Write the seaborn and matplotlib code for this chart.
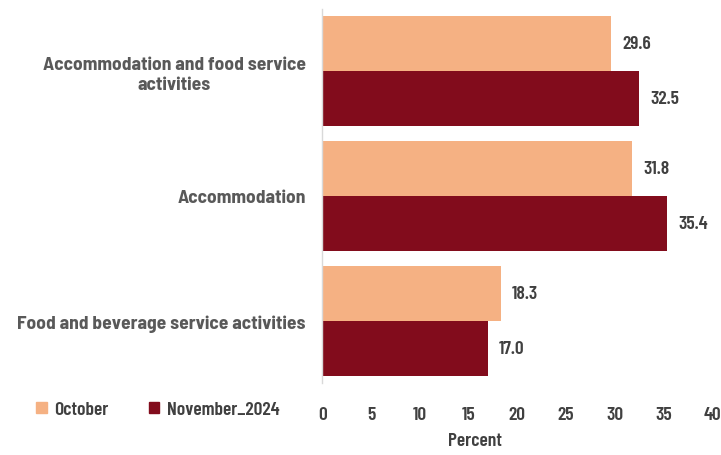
import matplotlib
matplotlib.use("Agg")
import matplotlib.pyplot as plt
import pandas as pd
import seaborn as sns
from matplotlib.patches import Patch

categories = [
    "Accommodation and food service\nactivities",
    "Accommodation",
    "Food and beverage service activities",
]
series = ["October", "November_2024"]
october = [29.6, 31.8, 18.3]
november = [32.5, 35.4, 17.0]
colors = ["#F5B183", "#820C1C"]
dark_text = "#404040"
cat_text = "#595959"

sns.set_theme(style="white")
plt.rcParams["font.family"] = ["Barlow Semi Condensed", "DejaVu Sans"]
num_font = ["Barlow Condensed", "DejaVu Sans"]

df = pd.DataFrame({
    "category": categories * 2,
    "series": [series[0]] * 3 + [series[1]] * 3,
    "value": october + november,
})

fig = plt.figure(figsize=(7.21, 4.56), dpi=100)
ax = fig.add_axes([0.447, 0.157, 0.541, 0.822])

sns.barplot(
    data=df, y="category", x="value", hue="series",
    order=categories, hue_order=series, palette=colors,
    orient="h", width=0.88, saturation=1, ax=ax, legend=False,
    linewidth=0,
)

for container in ax.containers:
    ax.bar_label(container, fmt="%.1f", padding=8, fontsize=14,
                 fontweight="semibold", color=dark_text, family=num_font)

ax.set_xlim(0, 40)
ax.set_ylim(2.5, -0.5)
ax.set_xticks(range(0, 41, 5))
ax.set_xlabel("Percent", fontsize=14, fontweight="semibold", color=dark_text,
              family=num_font)
ax.xaxis.set_label_coords(0.392, -0.13)
ax.set_ylabel("")
ax.tick_params(axis="x", length=0, pad=16, labelsize=14, labelcolor=dark_text)
ax.tick_params(axis="y", length=0, pad=12, labelsize=14, labelcolor=cat_text)
for lbl in ax.get_xticklabels():
    lbl.set_fontweight("semibold")
    lbl.set_family(num_font)
for lbl in ax.get_yticklabels():
    lbl.set_fontweight("bold")
    lbl.set_multialignment("center")

for side in ["top", "right", "bottom"]:
    ax.spines[side].set_visible(False)
ax.spines["left"].set_color("#D9D9D9")
ax.spines["left"].set_linewidth(1)

handles = [Patch(color=c) for c in colors]
fig.legend(handles, series, loc="center left", bbox_to_anchor=(0.05, 1 - 411 / 456),
           ncol=2, frameon=False, handlelength=0.55, handleheight=0.55,
           handletextpad=0.4, columnspacing=2.05,
           prop={"size": 14, "weight": "semibold", "family": num_font},
           labelcolor=dark_text, borderpad=0, borderaxespad=0)

fig.savefig("out.png", dpi=100)
